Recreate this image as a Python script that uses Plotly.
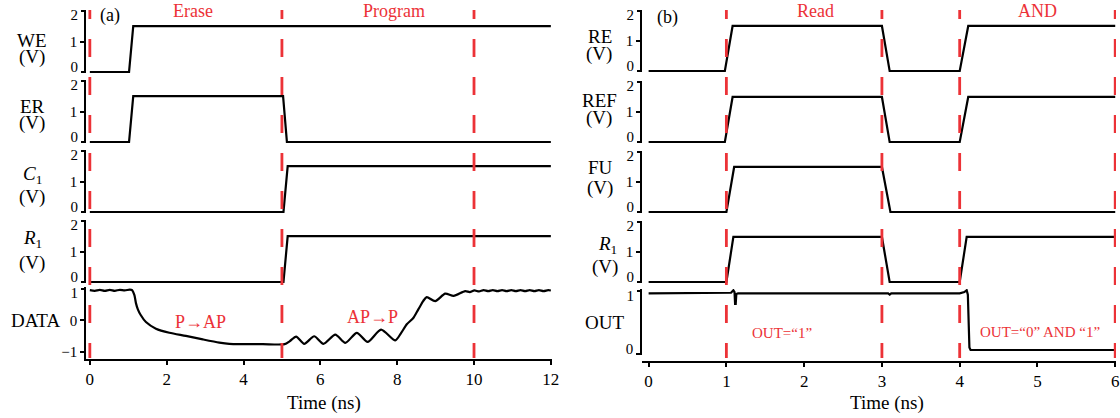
import plotly.graph_objects as go

W, H = 1120, 418

# ---------------- panel (a) data ----------------
we_t = [0, 1.02, 1.13, 12]
we_v = [0, 0, 1.5, 1.5]
er_t = [0, 1.02, 1.13, 5.03, 5.13, 12]
er_v = [0, 0, 1.5, 1.5, 0, 0]
c1_t = [0, 5.04, 5.15, 12]
c1_v = [0, 0, 1.5, 1.5]
r1a_t = [0, 5.04, 5.15, 12]
r1a_v = [0, 0, 1.5, 1.5]
data_t = [0.00, 0.13, 0.26, 0.39, 0.52, 0.65, 0.78, 0.91, 1.04, 1.10,
          1.16, 1.20, 1.25, 1.32, 1.46, 1.72, 2.07, 2.50, 2.94, 3.37,
          3.63, 3.90, 4.50, 5.07, 5.20, 5.37, 5.58, 5.84, 6.08, 6.39,
          6.65, 6.95, 7.23, 7.58, 7.95, 8.10, 8.25, 8.42, 8.55, 8.68,
          8.77, 8.99, 9.25, 9.47, 9.77, 9.89, 10.01, 10.13, 10.25, 10.37,
          10.49, 10.61, 10.73, 10.85, 10.97, 11.09, 11.21, 11.33, 11.45, 11.57,
          11.69, 11.81, 11.93, 12.00]
data_v = [0.96, 0.94, 0.97, 0.94, 0.97, 0.94, 0.97, 0.95, 0.98, 0.96,
          0.80, 0.55, 0.35, 0.18, -0.05, -0.26, -0.39, -0.49, -0.60, -0.70,
          -0.74, -0.75, -0.75, -0.75, -0.66, -0.51, -0.74, -0.50, -0.74, -0.45,
          -0.71, -0.39, -0.68, -0.29, -0.63, -0.40, -0.12, 0.08, 0.35, 0.62,
          0.74, 0.61, 0.85, 0.78, 0.93, 0.90, 0.95, 0.92, 0.96, 0.93,
          0.96, 0.93, 0.96, 0.93, 0.96, 0.93, 0.96, 0.93, 0.96, 0.93,
          0.96, 0.93, 0.96, 0.95]
a_phase_t = [0, 5, 10]
a_xticks = [0, 2, 4, 6, 8, 10, 12]

# ---------------- panel (b) data ----------------
re_t = [0, 0.98, 1.08, 3.0, 3.1, 4.0, 4.11, 6]
re_v = [0, 0, 1.5, 1.5, 0, 0, 1.5, 1.5]
ref_t = [0, 0.98, 1.08, 3.0, 3.1, 4.0, 4.11, 6]
ref_v = [0, 0, 1.5, 1.5, 0, 0, 1.5, 1.5]
fu_t = [0, 1.0, 1.1, 3.0, 3.11, 6]
fu_v = [0, 0, 1.5, 1.5, 0, 0]
r1b_t = [0, 1.0, 1.09, 3.0, 3.1, 4.0, 4.09, 6]
r1b_v = [0, 0, 1.5, 1.5, 0, 0, 1.5, 1.5]
out_t = [0, 1.0, 1.06, 1.09, 1.105, 1.112, 1.12, 1.128, 1.15, 3.08, 3.10, 3.12,
         4.0, 4.06, 4.09, 4.105, 4.115, 4.125, 4.14, 6]
out_v = [0.97, 0.97, 0.98, 1.02, 0.99, 0.80, 0.80, 0.96, 0.97, 0.97, 0.95, 0.97,
         0.97, 0.99, 1.02, 0.95, 0.50, 0.10, 0.06, 0.06]
b_phase_t = [1, 3, 4, 6]
b_xticks = [0, 1, 2, 3, 4, 5, 6]

# y tick labels: (value, text, label shift in px; positive moves the label down)
SIG_TICKS = [(0, "0", -5), (1, "1", 0), (2, "2", 4)]
DATA_TICKS = [(-1, "\u22121", 0), (0, "0", 0), (1, "1", 4)]
OUT_TICKS = [(0, "0", -5), (1, "1", 4)]

RED = "#ec3237"
FONT = "Liberation Serif, Times New Roman, serif"


def fx(p):
    return p / W


def fy(p):
    return 1 - p / H


panels = [
    ("x", 10, 73, [-0.03, 2.03], SIG_TICKS, we_t, we_v, "linear"),
    ("x", 80, 143, [-0.03, 2.03], SIG_TICKS, er_t, er_v, "linear"),
    ("x", 150, 213, [-0.03, 2.03], SIG_TICKS, c1_t, c1_v, "linear"),
    ("x", 220, 283, [-0.03, 2.03], SIG_TICKS, r1a_t, r1a_v, "linear"),
    ("x", 287, 359, [-1.22, 1.06], DATA_TICKS, data_t, data_v, "spline"),
    ("x2", 10, 72, [-0.03, 2.03], SIG_TICKS, re_t, re_v, "linear"),
    ("x2", 81, 143, [-0.03, 2.03], SIG_TICKS, ref_t, ref_v, "linear"),
    ("x2", 151, 213, [-0.03, 2.03], SIG_TICKS, fu_t, fu_v, "linear"),
    ("x2", 221, 283, [-0.03, 2.03], SIG_TICKS, r1b_t, r1b_v, "linear"),
    ("x2", 289, 355, [-0.02, 1.04], OUT_TICKS, out_t, out_v, "linear"),
]

fig = go.Figure()
layout = {}
ytickfont = dict(family=FONT, size=15, color="black")
tick_style = dict(ticks="outside", ticklen=4, tickwidth=1.6, tickcolor="black",
                  tickfont=ytickfont, showgrid=False, zeroline=False, fixedrange=True)
next_ov = len(panels) + 1
for i, (xa, top, bot, rng, ticks, t, v, shape) in enumerate(panels, start=1):
    yname = "y" if i == 1 else f"y{i}"
    ykey = "yaxis" if i == 1 else f"yaxis{i}"
    fig.add_trace(go.Scatter(x=t, y=v, xaxis=xa, yaxis=yname, mode="lines",
                             line=dict(color="black", width=2.2, shape=shape, smoothing=0.7),
                             hoverinfo="skip", showlegend=False))
    groups = {}
    for val, lab, sh in ticks:
        groups.setdefault(sh, []).append((val, lab))
    keys = list(groups)
    main_sh = 0 if 0 in groups else keys[0]
    layout[ykey] = dict(
        domain=[fy(bot), fy(top)], range=rng, anchor=xa,
        showline=True, linecolor="black", linewidth=1.6,
        tickvals=[a for a, _ in groups[main_sh]],
        ticktext=[b for _, b in groups[main_sh]],
        ticklabelshift=main_sh, **tick_style,
    )
    for sh, items in groups.items():
        if sh == main_sh:
            continue
        ov = f"y{next_ov}"
        layout[f"yaxis{next_ov}"] = dict(
            overlaying=yname, anchor=xa, side="left", range=rng, showline=False,
            tickvals=[a for a, _ in items], ticktext=[b for _, b in items],
            ticklabelshift=sh, **tick_style,
        )
        # empty trace so the overlay axis is rendered
        fig.add_trace(go.Scatter(x=[], y=[], xaxis=xa, yaxis=ov, mode="lines",
                                 hoverinfo="skip", showlegend=False))
        next_ov += 1

xtickfont = dict(family=FONT, size=17, color="black")
xstyle = dict(showline=True, linecolor="black", linewidth=1.6,
              ticks="outside", ticklen=4, tickwidth=1.6, tickcolor="black",
              tickfont=xtickfont, showgrid=False, zeroline=False, fixedrange=True)
layout["xaxis"] = dict(domain=[fx(86), fx(552)], range=[-0.1, 12.03], anchor="y5",
                       tickvals=a_xticks, **xstyle)
layout["xaxis2"] = dict(domain=[fx(642), fx(1116)], range=[-0.085, 6.01], anchor="free",
                        position=fy(362), tickvals=b_xticks, **xstyle)

DASH = ",".join(["9px", "20px"] + ["18px", "20px"] * 10)
shapes = []
for xa, ts in (("x", a_phase_t), ("x2", b_phase_t)):
    for t in ts:
        shapes.append(dict(type="line", xref=xa, yref="paper", x0=t, x1=t,
                           y0=fy(10), y1=fy(358), layer="above",
                           line=dict(color=RED, width=2.8, dash=DASH)))


def ann(text, px, py, size=19, color="black"):
    return dict(text=text, x=fx(px), y=fy(py), xref="paper", yref="paper",
                xanchor="center", yanchor="middle", showarrow=False,
                font=dict(family=FONT, size=size, color=color))


annotations = [
    ann("(a)", 110, 15, 18), ann("(b)", 667, 17, 18),
    ann("Erase", 193, 11, 18, RED), ann("Program", 394, 11, 18, RED),
    ann("Read", 815, 11, 18, RED), ann("AND", 1037, 11, 18, RED),
    ann("P\u2192AP", 200, 322, 18, RED), ann("AP\u2192P", 372, 317, 18, RED),
    ann("OUT=\u201c1\u201d", 782, 333, 15, RED),
    ann("OUT=\u201c0\u201d AND \u201c1\u201d", 1040, 332, 15, RED),
    ann("WE", 32, 40), ann("(V)", 32, 57),
    ann("ER", 32, 107), ann("(V)", 32, 123),
    ann("<i>C</i><sub>1</sub>", 32, 175), ann("(V)", 32, 197),
    ann("<i>R</i><sub>1</sub>", 32, 239), ann("(V)", 32, 263),
    ann("DATA", 35, 320),
    ann("RE", 600, 37), ann("(V)", 599, 54),
    ann("REF", 599, 100), ann("(V)", 599, 118),
    ann("FU", 600, 167), ann("(V)", 600, 188),
    ann("<i>R</i><sub>1</sub>", 607, 245), ann("(V)", 605, 267),
    ann("OUT", 604, 322),
    ann("Time (ns)", 324, 403), ann("Time (ns)", 887, 403),
]

fig.update_layout(
    width=W, height=H, autosize=False, template="none",
    margin=dict(l=0, r=0, t=0, b=0, pad=0),
    paper_bgcolor="white", plot_bgcolor="rgba(0,0,0,0)",
    font=dict(family=FONT, color="black"),
    showlegend=False, shapes=shapes, annotations=annotations,
    **layout,
)

fig.write_html("out.html", config={"displayModeBar": False},
               post_script="document.body.style.margin='0';document.body.style.overflow='hidden';")
